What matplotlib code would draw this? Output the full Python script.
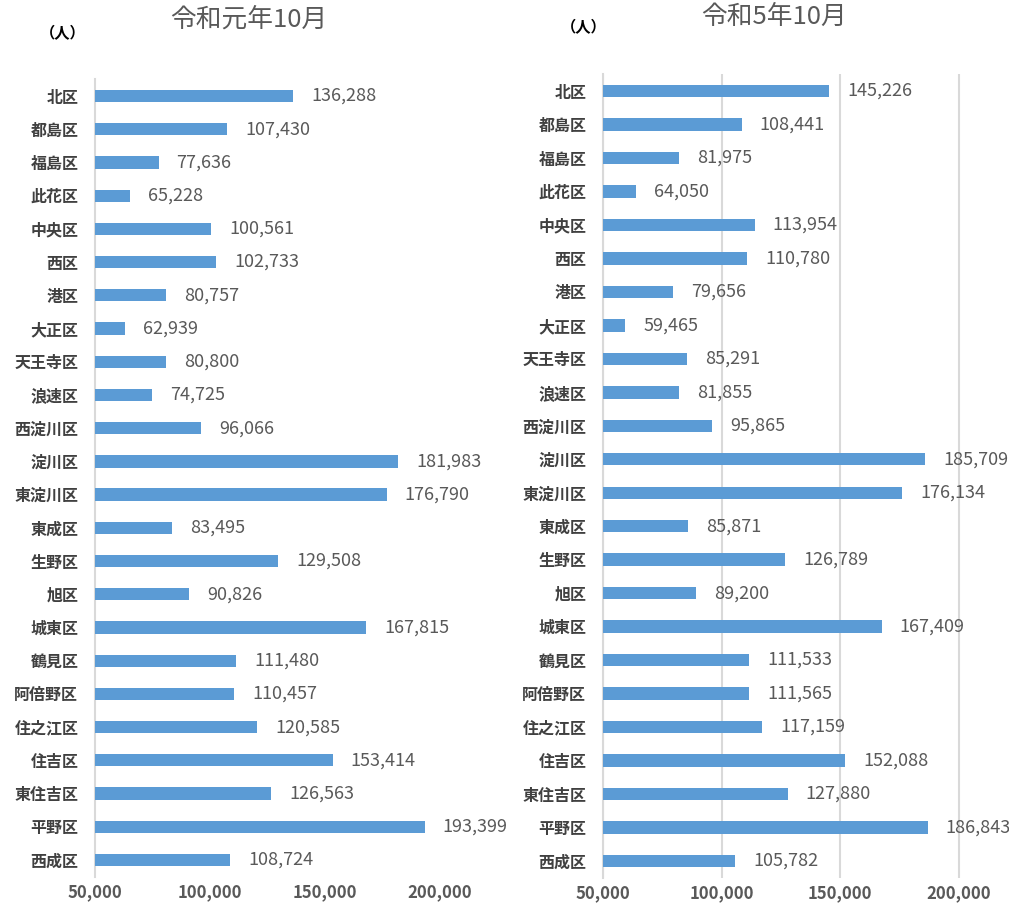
import matplotlib
matplotlib.use("Agg")
import matplotlib.pyplot as plt
from matplotlib.ticker import FuncFormatter

plt.rcParams['font.family'] = ['Noto Sans CJK JP', 'DejaVu Sans']

wards = ["北区", "都島区", "福島区", "此花区", "中央区", "西区", "港区", "大正区",
         "天王寺区", "浪速区", "西淀川区", "淀川区", "東淀川区", "東成区", "生野区",
         "旭区", "城東区", "鶴見区", "阿倍野区", "住之江区", "住吉区", "東住吉区",
         "平野区", "西成区"]
r1_values = [136288, 107430, 77636, 65228, 100561, 102733, 80757, 62939,
             80800, 74725, 96066, 181983, 176790, 83495, 129508,
             90826, 167815, 111480, 110457, 120585, 153414, 126563,
             193399, 108724]
r5_values = [145226, 108441, 81975, 64050, 113954, 110780, 79656, 59465,
             85291, 81855, 95865, 185709, 176134, 85871, 126789,
             89200, 167409, 111533, 111565, 117159, 152088, 127880,
             186843, 105782]
titles = ["令和元年10月", "令和5年10月"]
xticks = [50000, 100000, 150000, 200000]
unit = "（人）"

W, H = 1009, 910
fig = plt.figure(figsize=(W / 100, H / 100), dpi=100)

bar_color = "#5B9BD5"
grid_color = "#D9D9D9"
text_gray = "#595959"
cat_color = "#404040"

panels = [
    dict(left=95, right=479, top=79.4, bottom=876.6, xmax=217000, grid=False,
         values=r1_values, title=titles[0], title_xy=(249, 20), unit_xy=(63, 33)),
    dict(left=603, right=1000, top=74.3, bottom=877.7, xmax=217300, grid=True,
         values=r5_values, title=titles[1], title_xy=(774, 17), unit_xy=(584, 27)),
]

fmt = FuncFormatter(lambda v, p: f"{int(v):,}")

for p in panels:
    ax = fig.add_axes([p['left'] / W, (H - p['bottom']) / H,
                       (p['right'] - p['left']) / W, (p['bottom'] - p['top']) / H])
    ypos = list(range(len(wards)))
    ax.barh(ypos, [v - 50000 for v in p['values']], left=50000, height=0.37,
            color=bar_color, zorder=3)
    ax.set_xlim(50000, p['xmax'])
    ax.set_ylim(len(wards) - 0.5, -0.5)
    ax.set_yticks(ypos)
    ax.set_yticklabels(wards, fontsize=11.5, fontweight='bold', color=cat_color)
    ax.set_xticks(xticks)
    ax.xaxis.set_major_formatter(fmt)
    for lab in ax.get_xticklabels():
        lab.set_fontsize(12)
        lab.set_fontweight('bold')
        lab.set_color(text_gray)
    ax.tick_params(axis='y', length=0, pad=12)
    ax.tick_params(axis='x', length=0, pad=5)
    for s in ['top', 'right', 'bottom']:
        ax.spines[s].set_visible(False)
    ax.spines['left'].set_color(grid_color)
    ax.spines['left'].set_linewidth(1.5)
    if p['grid']:
        ax.grid(axis='x', color=grid_color, linewidth=1.5, zorder=0)
    ax.set_axisbelow(True)
    for y, v in zip(ypos, p['values']):
        ax.annotate(f"{v:,}", xy=(v, y), xytext=(13, 0), textcoords='offset points',
                    va='center', ha='left', fontsize=13, color=text_gray)
    fig.text(p['title_xy'][0] / W, 1 - p['title_xy'][1] / H, p['title'],
             ha='center', va='center', fontsize=18.5, color=text_gray)
    fig.text(p['unit_xy'][0] / W, 1 - p['unit_xy'][1] / H, unit,
             ha='center', va='center', fontsize=11, fontweight='bold', color='#000000')

fig.savefig("out.png", dpi=100, facecolor='white')
